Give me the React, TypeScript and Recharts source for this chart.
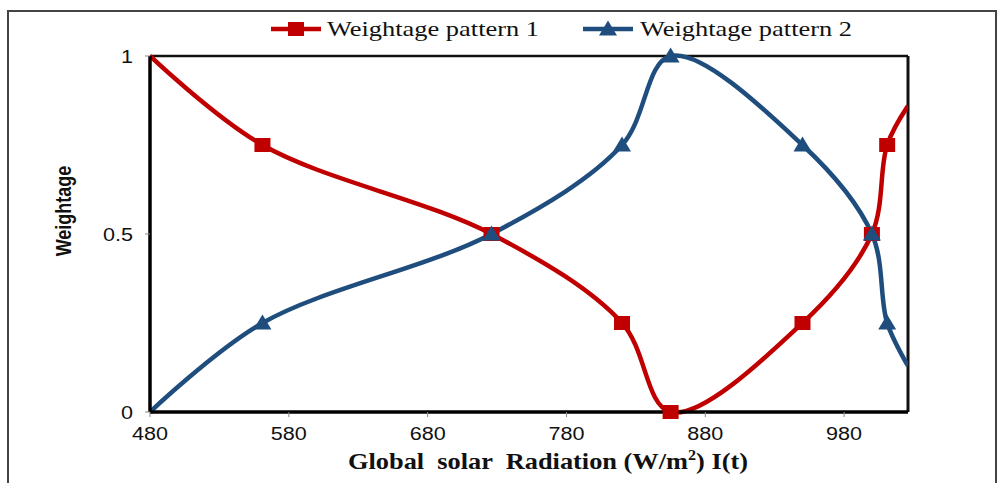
import React from 'react';
import { LineChart, Line, XAxis, YAxis, ReferenceLine, Legend } from 'recharts';

const xValues = [480, 561, 726, 820, 855, 950, 1000, 1011, 1026];
const pattern1 = [1, 0.75, 0.5, 0.25, 0, 0.25, 0.5, 0.75, 0.86];
const pattern2 = [0, 0.25, 0.5, 0.75, 1, 0.75, 0.5, 0.25, 0.13];
const xTicks = [480, 580, 680, 780, 880, 980];
const yTicks = [0, 0.5, 1];
const seriesNames = ['Weightage pattern 1', 'Weightage pattern 2'];

const RED = '#C00000';
const BLUE = '#1F4E7E';

const data = xValues.map((x, i) => ({ x, p1: pattern1[i], p2: pattern2[i] }));
const lastIdx = xValues.length - 1;

// Centripetal Catmull-Rom curve (smooth like a spreadsheet "smoothed line")
class CatmullRomCurve {
  _context: any;
  _alpha: number;
  _x0 = NaN; _x1 = NaN; _x2 = NaN; _y0 = NaN; _y1 = NaN; _y2 = NaN;
  _l01_a = 0; _l12_a = 0; _l23_a = 0; _l01_2a = 0; _l12_2a = 0; _l23_2a = 0;
  _point = 0; _line: number = NaN;
  constructor(context: any, alpha: number) {
    this._context = context;
    this._alpha = alpha;
  }
  areaStart() { this._line = 0; }
  areaEnd() { this._line = NaN; }
  lineStart() {
    this._x0 = this._x1 = this._x2 = this._y0 = this._y1 = this._y2 = NaN;
    this._l01_a = this._l12_a = this._l23_a = this._l01_2a = this._l12_2a = this._l23_2a = this._point = 0;
  }
  lineEnd() {
    switch (this._point) {
      case 2: this._context.lineTo(this._x2, this._y2); break;
      case 3: this.point(this._x2, this._y2); break;
    }
    if (this._line || (this._line !== 0 && this._point === 1)) this._context.closePath();
    this._line = 1 - this._line;
  }
  seg(x: number, y: number) {
    let x1 = this._x1, y1 = this._y1, x2 = this._x2, y2 = this._y2;
    if (this._l01_a > 1e-12) {
      const a = 2 * this._l01_2a + 3 * this._l01_a * this._l12_a + this._l12_2a;
      const n = 3 * this._l01_a * (this._l01_a + this._l12_a);
      x1 = (x1 * a - this._x0 * this._l12_2a + this._x2 * this._l01_2a) / n;
      y1 = (y1 * a - this._y0 * this._l12_2a + this._y2 * this._l01_2a) / n;
    }
    if (this._l23_a > 1e-12) {
      const b = 2 * this._l23_2a + 3 * this._l23_a * this._l12_a + this._l12_2a;
      const m = 3 * this._l23_a * (this._l23_a + this._l12_a);
      x2 = (x2 * b + this._x1 * this._l23_2a - x * this._l12_2a) / m;
      y2 = (y2 * b + this._y1 * this._l23_2a - y * this._l12_2a) / m;
    }
    this._context.bezierCurveTo(x1, y1, x2, y2, this._x2, this._y2);
  }
  point(x: number, y: number) {
    x = +x; y = +y;
    if (this._point) {
      const x23 = this._x2 - x, y23 = this._y2 - y;
      this._l23_2a = Math.pow(x23 * x23 + y23 * y23, this._alpha);
      this._l23_a = Math.sqrt(this._l23_2a);
    }
    switch (this._point) {
      case 0:
        this._point = 1;
        if (this._line) this._context.lineTo(x, y); else this._context.moveTo(x, y);
        break;
      case 1:
        this._point = 2;
        break;
      case 2:
        this._point = 3;
        this.seg(x, y);
        break;
      default:
        this.seg(x, y);
        break;
    }
    this._l01_a = this._l12_a; this._l12_a = this._l23_a;
    this._l01_2a = this._l12_2a; this._l12_2a = this._l23_2a;
    this._x0 = this._x1; this._x1 = this._x2; this._x2 = x;
    this._y0 = this._y1; this._y1 = this._y2; this._y2 = y;
  }
}

const smoothCurve: any = (context: any) => new CatmullRomCurve(context, 0.5);

const SquareDot = (props: any) => {
  const { cx, cy, index } = props;
  if (index === 0 || index === lastIdx || cx == null) return <g key={`s${index}`} />;
  return <rect key={`s${index}`} x={cx - 8} y={cy - 7} width={16} height={14} fill={RED} />;
};

const TriDot = (props: any) => {
  const { cx, cy, index } = props;
  if (index === 0 || index === lastIdx || cx == null) return <g key={`t${index}`} />;
  return (
    <polygon
      key={`t${index}`}
      points={`${cx},${cy - 8.5} ${cx + 9},${cy + 6.5} ${cx - 9},${cy + 6.5}`}
      fill={BLUE}
    />
  );
};

const XTick = (props: any) => {
  const { x, y, payload } = props;
  return (
    <text x={x} y={y + 21} textAnchor="middle" fontFamily="'Liberation Sans', Arial, sans-serif" fontSize={18} fill="#111" textLength={36} lengthAdjust="spacingAndGlyphs">
      {payload.value}
    </text>
  );
};

const YTick = (props: any) => {
  const { x, y, payload } = props;
  const s = String(payload.value);
  return (
    <text x={x - 10} y={y + 6.5} textAnchor="end" fontFamily="'Liberation Sans', Arial, sans-serif" fontSize={18} fill="#111" textLength={s.length === 1 ? 12 : 30} lengthAdjust="spacingAndGlyphs">
      {s}
    </text>
  );
};

const renderLegend = () => (
  <svg width={1004} height={44} style={{ display: 'block' }}>
    <line x1={271} y1={29} x2={321} y2={29} stroke={RED} strokeWidth={4.5} />
    <rect x={288} y={22} width={16} height={14} fill={RED} />
    <text x={327} y={36} fontFamily="'Liberation Serif', 'Times New Roman', serif" fontSize={22} fill="#111" textLength={212} lengthAdjust="spacingAndGlyphs">
      {seriesNames[0]}
    </text>
    <line x1={583} y1={29} x2={633} y2={29} stroke={BLUE} strokeWidth={4.5} />
    <polygon points="608,20.5 617,35.5 599,35.5" fill={BLUE} />
    <text x={640} y={36} fontFamily="'Liberation Serif', 'Times New Roman', serif" fontSize={22} fill="#111" textLength={212} lengthAdjust="spacingAndGlyphs">
      {seriesNames[1]}
    </text>
  </svg>
);

export default function App() {
  return (
    <div style={{ position: 'absolute', left: 0, top: 0, width: 1004, height: 483, background: '#fff', overflow: 'hidden' }}>
      <div
        style={{
          position: 'absolute',
          left: 7,
          top: 10,
          width: 990,
          height: 600,
          border: '2px solid #444',
          borderBottom: 'none',
          boxSizing: 'border-box',
        }}
      />
      <div style={{ position: 'absolute', left: 0, top: 0 }}>
        <LineChart width={1004} height={483} data={data} margin={{ top: 12, right: 96, bottom: 41, left: 90 }}>
          <Legend verticalAlign="top" content={renderLegend} wrapperStyle={{ top: 0, left: 0, width: 1004, height: 44 }} />
          <XAxis
            dataKey="x"
            type="number"
            domain={[480, 1026]}
            ticks={xTicks}
            allowDataOverflow
            height={30}
            axisLine={{ stroke: '#000', strokeWidth: 3.5 }}
            tickLine={{ stroke: '#888', strokeWidth: 1 }}
            tickSize={5}
            tick={<XTick />}
          />
          <YAxis
            type="number"
            domain={[0, 1]}
            ticks={yTicks}
            width={60}
            axisLine={{ stroke: '#000', strokeWidth: 3.5 }}
            tickLine={{ stroke: '#888', strokeWidth: 1 }}
            tickSize={5}
            tick={<YTick />}
          />
          <ReferenceLine y={1} stroke="#111" strokeWidth={2.5} />
          <ReferenceLine x={1026} stroke="#111" strokeWidth={3} />
          <Line
            type={smoothCurve}
            dataKey="p1"
            name={seriesNames[0]}
            stroke={RED}
            strokeWidth={4.5}
            dot={SquareDot}
            activeDot={false}
            isAnimationActive={false}
          />
          <Line
            type={smoothCurve}
            dataKey="p2"
            name={seriesNames[1]}
            stroke={BLUE}
            strokeWidth={4.5}
            dot={TriDot}
            activeDot={false}
            isAnimationActive={false}
          />
          <text
            transform="translate(63 211) rotate(-90) scale(1 1.2)"
            x={0}
            y={0}
            textAnchor="middle"
            dominantBaseline="central"
            fontFamily="'Liberation Sans', Arial, sans-serif"
            fontWeight="bold"
            fontSize={18}
            fill="#111"
          >
            Weightage
          </text>
          <text
            x={348}
            y={469}
            fontFamily="'Liberation Serif', 'Times New Roman', serif"
            fontWeight="bold"
            fontSize={23}
            fill="#111"
            textLength={400}
            lengthAdjust="spacingAndGlyphs"
            style={{ whiteSpace: 'pre' }}
          >
            Global  solar  Radiation (W/m
            <tspan fontSize={14} dy={-9}>2</tspan>
            <tspan dy={9}>) I(t)</tspan>
          </text>
        </LineChart>
      </div>
    </div>
  );
}
